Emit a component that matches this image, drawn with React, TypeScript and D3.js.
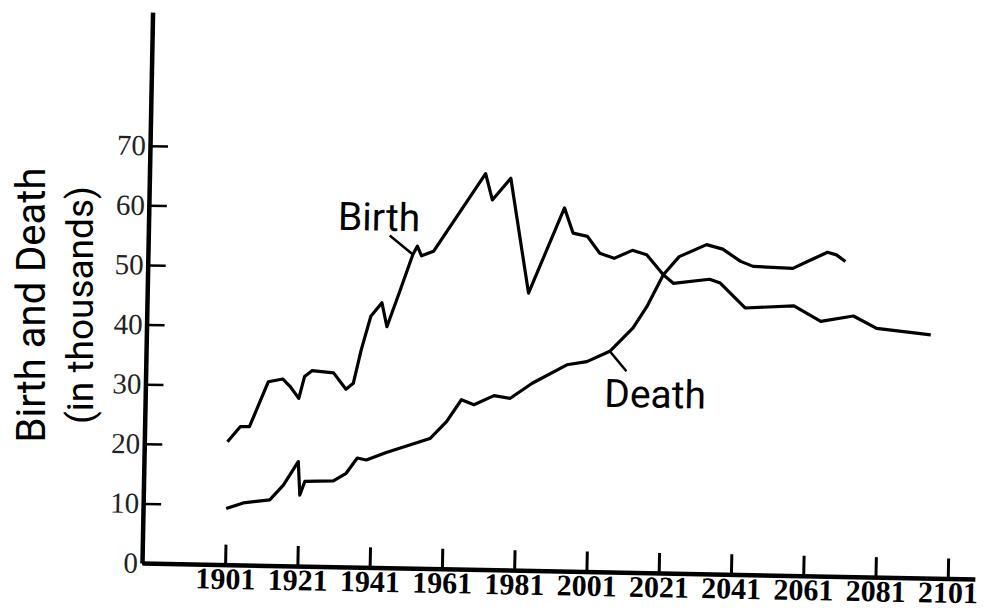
import * as d3 from 'd3'
import { useEffect, useRef } from 'react'

// values (thousands)
const birthYears = [
  1901, 1904.5, 1907, 1912, 1916, 1918, 1920.5, 1922, 1924, 1930, 1933.5, 1935.5, 1937.5, 1940,
  1943, 1944.5, 1948, 1951.3, 1952.5, 1953.7, 1957, 1971, 1973, 1978, 1983.5, 1993, 1995.5,
  1999.5, 2003, 2007, 2012, 2016, 2020.7, 2023.5, 2033.5, 2036.5, 2043.5, 2057, 2064.5, 2073.5,
  2080, 2095,
]
const birthValues = [
  20.6, 23.2, 23.2, 30.8, 31.3, 30.1, 28.1, 31.8, 32.8, 32.5, 29.8, 30.8, 36.4, 42.1, 44.4, 40.4,
  46.6, 52.6, 54.0, 52.4, 53.2, 66.4, 62.0, 65.7, 46.5, 60.9, 56.7, 56.2, 53.4, 52.6, 54.0, 53.3,
  50.0, 48.6, 49.4, 48.8, 44.7, 45.2, 42.7, 43.7, 41.7, 40.8,
]
const deathYears = [
  1901, 1905.7, 1913, 1916.7, 1920.7, 1921.3, 1922.6, 1930.5, 1934, 1937, 1939.5, 1945, 1957,
  1961.5, 1965.5, 1969, 1974.5, 1979, 1985, 1994.5, 2000, 2006.3, 2012.6, 2016.3, 2020.7, 2025,
  2032.5, 2037, 2042, 2045.5, 2056.5, 2060.5, 2066, 2068.5, 2071,
]
const deathValues = [
  9.4, 10.4, 11.0, 13.5, 17.5, 11.9, 14.2, 14.4, 15.7, 18.3, 18.0, 19.3, 21.8, 24.7, 28.4, 27.6,
  29.2, 28.8, 31.4, 34.6, 35.2, 37.0, 41.0, 44.6, 50.0, 53.1, 55.2, 54.5, 52.5, 51.7, 51.5, 52.7,
  54.3, 53.9, 52.8,
]
const yearTicks = [1901, 1921, 1941, 1961, 1981, 2001, 2021, 2041, 2061, 2081, 2101]
const valueTicks = [0, 10, 20, 30, 40, 50, 60, 70]

// series labels with their leader lines: [year, value]
const labels = [
  { text: 'Birth', at: [1930.4, 56.5], lead: [[1944.8, 55.7], [1951.3, 52.6]] },
  { text: 'Death', at: [2005, 27.7], lead: [[2006.3, 37.0], [2011, 33.7]] },
]

const origin = { x: 142, y: 563 }
const width = 833
const height = 551
const tilt = 1.1 // the scan is slightly rotated

export default function App() {
  const ref = useRef<SVGSVGElement>(null)

  useEffect(() => {
    const svg = d3.select(ref.current)
    svg.selectAll('*').remove()

    const g = svg
      .append('g')
      .attr('transform', `translate(${origin.x},${origin.y}) rotate(${tilt}) translate(0,${-height})`)

    const x = d3.scaleLinear().domain([1878, 2108.5]).range([0, width])
    const y = d3.scaleLinear().domain([0, 92.4]).range([height, 0])

    // y axis, ticks pointing inward
    const yAxis = g
      .append('g')
      .call(d3.axisLeft(y).tickValues(valueTicks).tickSizeInner(-18).tickSizeOuter(0).tickPadding(4))
    yAxis.select('.domain').attr('stroke', '#000').attr('stroke-width', 4.5)
    yAxis.selectAll('.tick line').attr('stroke', '#000').attr('stroke-width', 2.5)
    yAxis
      .selectAll('.tick text')
      .attr('font-family', '"Liberation Serif", serif')
      .attr('font-size', 29)
      .attr('fill', '#222')

    const xAxis = g
      .append('g')
      .attr('transform', `translate(0,${height})`)
      .call(d3.axisBottom(x).tickValues(yearTicks).tickFormat(d3.format('d')).tickSizeInner(-20).tickSizeOuter(0).tickPadding(3))
    xAxis.select('.domain').attr('stroke', '#000').attr('stroke-width', 4.5)
    xAxis.selectAll('.tick line').attr('stroke', '#000').attr('stroke-width', 3)
    xAxis
      .selectAll('.tick text')
      .attr('font-family', '"Liberation Serif", serif')
      .attr('font-size', 30)
      .attr('font-weight', 'bold')
      .attr('fill', '#000')

    const line = d3
      .line<[number, number]>()
      .x((d) => x(d[0]))
      .y((d) => y(d[1]))

    const series = [
      birthYears.map((yr, i) => [yr, birthValues[i]] as [number, number]),
      deathYears.map((yr, i) => [yr, deathValues[i]] as [number, number]),
    ]
    g.selectAll('path.series')
      .data(series)
      .enter()
      .append('path')
      .attr('class', 'series')
      .attr('d', (d) => line(d))
      .attr('fill', 'none')
      .attr('stroke', '#000')
      .attr('stroke-width', 3.2)
      .attr('stroke-linejoin', 'round')

    labels.forEach((l) => {
      g.append('path')
        .attr('d', line(l.lead as [number, number][]))
        .attr('stroke', '#000')
        .attr('stroke-width', 2.5)
      g.append('text')
        .attr('x', x(l.at[0]))
        .attr('y', y(l.at[1]))
        .attr('font-family', 'Roboto, sans-serif')
        .attr('font-size', 39)
        .attr('fill', '#000')
        .text(l.text)
    })

    // axis title, two lines
    svg
      .append('text')
      .attr('transform', 'translate(45,305) rotate(-90)')
      .attr('text-anchor', 'middle')
      .attr('font-family', 'Roboto, sans-serif')
      .attr('font-size', 40)
      .attr('fill', '#000')
      .text('Birth and Death')
    svg
      .append('text')
      .attr('transform', 'translate(93,305) rotate(-90)')
      .attr('text-anchor', 'middle')
      .attr('font-family', 'Roboto, sans-serif')
      .attr('font-size', 37)
      .attr('fill', '#000')
      .text('(in thousands)')
  }, [])

  return (
    <svg
      ref={ref}
      width={984}
      height={612}
      style={{ position: 'absolute', left: 0, top: 0, background: '#fff' }}
    />
  )
}
